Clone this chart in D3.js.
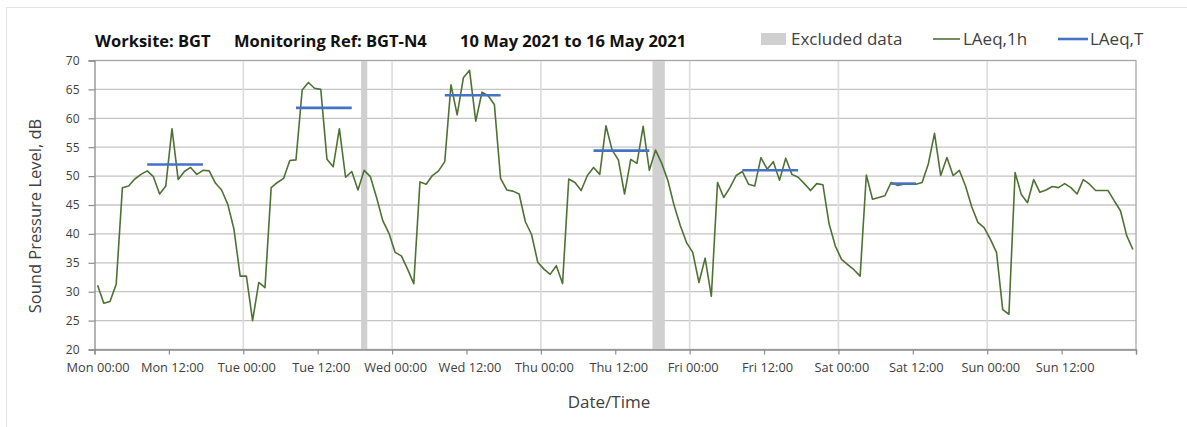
<!DOCTYPE html>
<html>
<head>
<meta charset="utf-8">
<script src="https://cdn.jsdelivr.net/npm/d3@7"></script>
<style>
  html, body { margin: 0; padding: 0; background: #fff; }
  svg { display: block; font-family: "Open Sans", "Noto Sans", sans-serif; }
</style>
</head>
<body>
<svg id="chart" width="1187" height="427"></svg>
<script>
// ---------------- DATA ----------------
const dayNames = ["Mon", "Tue", "Wed", "Thu", "Fri", "Sat", "Sun"];
// hourly LAeq,1h values (dB), one array per day, hours 00-23
const laeq1hMon = [31.1, 28.0, 28.3, 31.3, 48.0, 48.3, 49.5, 50.3, 50.9, 49.9, 46.9, 48.3, 58.2, 49.4, 50.8, 51.5, 50.3, 51.0, 50.9, 48.8, 47.6, 45.1, 40.8, 32.7];
const laeq1hTue = [32.7, 25.0, 31.6, 30.7, 48.0, 48.9, 49.6, 52.7, 52.8, 64.9, 66.2, 65.2, 65.0, 52.9, 51.6, 58.2, 49.8, 50.8, 47.6, 51.0, 49.9, 46.3, 42.3, 40.1];
const laeq1hWed = [36.8, 36.2, 33.9, 31.4, 49.0, 48.6, 50.1, 50.9, 52.5, 65.8, 60.6, 67.0, 68.3, 59.5, 64.5, 63.9, 62.4, 49.6, 47.6, 47.4, 46.9, 42.1, 39.9, 35.1];
const laeq1hThu = [33.9, 33.0, 34.5, 31.4, 49.5, 48.9, 47.5, 50.1, 51.5, 50.3, 58.7, 54.5, 52.8, 46.9, 52.9, 52.2, 58.6, 51.0, 54.5, 52.2, 49.2, 44.9, 41.4, 38.5];
const laeq1hFri = [36.8, 31.6, 35.8, 29.2, 48.9, 46.3, 48.0, 50.1, 50.8, 48.6, 48.3, 53.2, 51.2, 52.5, 49.3, 53.1, 50.3, 49.8, 48.7, 47.5, 48.7, 48.5, 41.7, 37.9];
const laeq1hSat = [35.6, 34.7, 33.8, 32.7, 50.2, 46.0, 46.3, 46.6, 48.9, 48.4, 48.6, 48.6, 48.6, 48.9, 52.1, 57.4, 50.1, 53.2, 50.1, 51.0, 48.3, 44.7, 42.0, 41.1];
const laeq1hSun = [39.1, 36.8, 26.9, 26.1, 50.6, 46.8, 45.4, 49.4, 47.2, 47.6, 48.2, 48.0, 48.7, 48.0, 46.9, 49.4, 48.6, 47.5, 47.5, 47.5, 45.7, 44.0, 39.7, 37.3];

// LAeq,T (working period) per day: first and last hourly period covered, level
const laeqTDay   = [0, 1, 2, 3, 4, 5];
const laeqTFirst = [8, 8, 8, 8, 8, 8];
const laeqTLast  = [17, 17, 17, 17, 17, 12];
const laeqTValue = [52.0, 61.8, 64.0, 54.4, 51.0, 48.7];

// Excluded data periods (hours from Mon 00:00)
const excludedStart = [43, 90];
const excludedEnd   = [44, 92];

const yTicks = [20, 25, 30, 35, 40, 45, 50, 55, 60, 65, 70];
const xTickHours = [0, 12, 24, 36, 48, 60, 72, 84, 96, 108, 120, 132, 144, 156];
const xTickLabels = ["Mon 00:00", "Mon 12:00", "Tue 00:00", "Tue 12:00", "Wed 00:00", "Wed 12:00",
  "Thu 00:00", "Thu 12:00", "Fri 00:00", "Fri 12:00", "Sat 00:00", "Sat 12:00", "Sun 00:00", "Sun 12:00"];

const titleParts = ["Worksite: BGT", "Monitoring Ref: BGT-N4", "10 May 2021 to 16 May 2021"];
const legendLabels = ["Excluded data", "LAeq,1h", "LAeq,T"];

// ---------------- BUILD ----------------
const hourly = [laeq1hMon, laeq1hTue, laeq1hWed, laeq1hThu, laeq1hFri, laeq1hSat, laeq1hSun]
  .flatMap((arr, d) => arr.map((v, h) => ({ t: d * 24 + h + 0.5, v })));

const svg = d3.select("#chart");
const W = 1187, H = 427;
const plot = { left: 94.5, right: 1136, top: 60.5, bottom: 349.5 };

const x = d3.scaleLinear().domain([0, 168]).range([plot.left, plot.right]);
const y = d3.scaleLinear().domain([20, 70]).range([plot.bottom, plot.top]);

const GREEN = "#4e7234";
const BLUE = "#4472c4";
const GREYBAND = "#d0d0d0";

// outer frame lines (chart area border)
svg.append("line").attr("x1", 6.5).attr("x2", W).attr("y1", 7.5).attr("y2", 7.5)
  .attr("stroke", "#e3e3e3").attr("stroke-width", 1);
svg.append("line").attr("x1", 6.5).attr("x2", 6.5).attr("y1", 7.5).attr("y2", H)
  .attr("stroke", "#e3e3e3").attr("stroke-width", 1);

// horizontal gridlines
svg.append("g").selectAll("line").data(yTicks).join("line")
  .attr("x1", plot.left).attr("x2", plot.right)
  .attr("y1", d => y(d)).attr("y2", d => y(d))
  .attr("stroke", "#c4c4c4").attr("stroke-width", 1.3);

// vertical gridlines at day boundaries
svg.append("g").selectAll("line").data(d3.range(1, 7).map(d => d * 24)).join("line")
  .attr("x1", d => x(d)).attr("x2", d => x(d))
  .attr("y1", plot.top).attr("y2", plot.bottom)
  .attr("stroke", "#dcdcdc").attr("stroke-width", 1.6);

// excluded data bands
svg.append("g").selectAll("rect").data(excludedStart.map((s, i) => [s, excludedEnd[i]])).join("rect")
  .attr("x", d => x(d[0])).attr("width", d => x(d[1]) - x(d[0]))
  .attr("y", plot.top).attr("height", plot.bottom - plot.top)
  .attr("fill", GREYBAND);

// plot border (top, right)
svg.append("path")
  .attr("d", `M${plot.left},${plot.top}H${plot.right}V${plot.bottom}`)
  .attr("fill", "none").attr("stroke", "#a6a6a6").attr("stroke-width", 1.2);

// LAeq,1h line
svg.append("path").datum(hourly)
  .attr("d", d3.line().x(d => x(d.t)).y(d => y(d.v)))
  .attr("fill", "none").attr("stroke", GREEN).attr("stroke-width", 1.6)
  .attr("stroke-linejoin", "round");

// LAeq,T segments
svg.append("g").selectAll("line").data(laeqTDay.map((d, i) => ({
    t0: d * 24 + laeqTFirst[i] + 0.5, t1: d * 24 + laeqTLast[i] + 0.5, v: laeqTValue[i] })))
  .join("line")
  .attr("x1", d => x(d.t0)).attr("x2", d => x(d.t1))
  .attr("y1", d => y(d.v)).attr("y2", d => y(d.v))
  .attr("stroke", BLUE).attr("stroke-width", 2.6);

// Y axis
const yAxis = svg.append("g").attr("transform", `translate(${plot.left},0)`)
  .call(d3.axisLeft(y).tickValues(yTicks).tickSize(6).tickPadding(9).tickFormat(d3.format("d")));
yAxis.select(".domain").attr("stroke", "#8c8c8c").attr("stroke-width", 1.3);
yAxis.selectAll(".tick line").attr("stroke", "#8c8c8c").attr("stroke-width", 1.2);
yAxis.selectAll(".tick text").attr("fill", "#404040").style("font-size", "12px")
  .style("font-family", "'Open Sans', sans-serif");

// X axis
const xAxis = svg.append("g").attr("transform", `translate(0,${plot.bottom})`)
  .call(d3.axisBottom(x).tickValues(xTickHours.concat([168])).tickSize(5).tickPadding(8)
    .tickFormat(d => { const i = xTickHours.indexOf(d); return i >= 0 ? xTickLabels[i] : ""; }));
xAxis.select(".domain").attr("stroke", "#8c8c8c").attr("stroke-width", 1.3);
xAxis.selectAll(".tick line").attr("stroke", "#8c8c8c").attr("stroke-width", 1.2);
xAxis.selectAll(".tick text").attr("fill", "#404040").style("font-size", "12.8px")
  .attr("dx", 3).style("font-family", "'Open Sans', sans-serif");

// Axis titles
svg.append("text").attr("x", 609).attr("y", 408).attr("text-anchor", "middle")
  .attr("fill", "#404040").style("font-size", "17px").text("Date/Time");
svg.append("text").attr("transform", "translate(41,216) rotate(-90)").attr("text-anchor", "middle")
  .attr("fill", "#404040").style("font-size", "16.5px").text("Sound Pressure Level, dB");

// Title
const titleX = [95, 234, 460];
svg.append("g").selectAll("text").data(titleParts).join("text")
  .attr("x", (d, i) => titleX[i]).attr("y", 46.5)
  .attr("fill", "#111").style("font-size", "16.5px").style("font-weight", "bold")
  .text(d => d);

// Legend
const lg = svg.append("g");
lg.append("rect").attr("x", 761).attr("y", 33).attr("width", 25).attr("height", 12).attr("fill", GREYBAND);
lg.append("text").attr("x", 791).attr("y", 45).attr("fill", "#404040").style("font-size", "17px").text(legendLabels[0]);
lg.append("line").attr("x1", 933).attr("x2", 960).attr("y1", 39).attr("y2", 39).attr("stroke", GREEN).attr("stroke-width", 1.6);
lg.append("text").attr("x", 963).attr("y", 45).attr("fill", "#404040").style("font-size", "17px").text(legendLabels[1]);
lg.append("line").attr("x1", 1058).attr("x2", 1088).attr("y1", 39).attr("y2", 39).attr("stroke", BLUE).attr("stroke-width", 2.6);
lg.append("text").attr("x", 1090).attr("y", 45).attr("fill", "#404040").style("font-size", "17px").text(legendLabels[2]);
</script>
</body>
</html>
